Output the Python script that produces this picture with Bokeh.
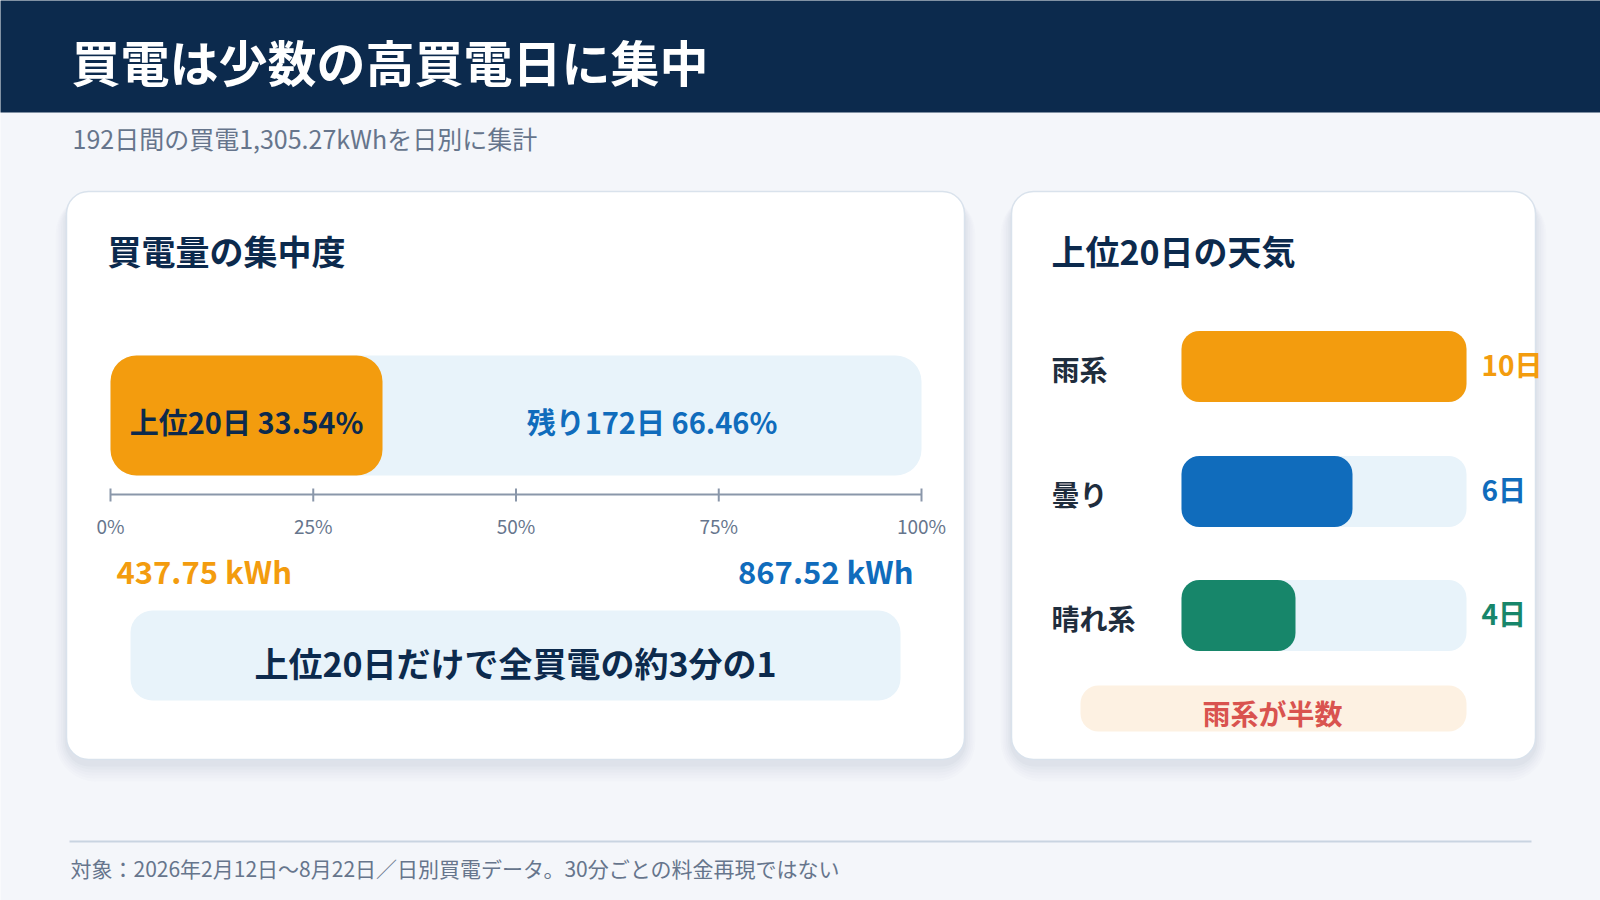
from bokeh.plotting import figure
from bokeh.models import Range1d
from bokeh.core.properties import value
from bokeh.embed import file_html
from bokeh.resources import INLINE

# ---------------- data ----------------
title = "買電は少数の高買電日に集中"
subtitle = "192日間の買電1,305.27kWhを日別に集計"
footer = "対象：2026年2月12日〜8月22日／日別買電データ。30分ごとの料金再現ではない"

share_labels = ["上位20日 33.54%", "残り172日 66.46%"]
share_values = [33.54, 66.46]
share_kwh = ["437.75 kWh", "867.52 kWh"]
share_ticks = [0, 25, 50, 75, 100]
share_tick_labels = ["0%", "25%", "50%", "75%", "100%"]
share_note = "上位20日だけで全買電の約3分の1"

weather_cats = ["雨系", "曇り", "晴れ系"]
weather_days = [10, 6, 4]
weather_max = 10
weather_labels = ["10日", "6日", "4日"]
weather_note = "雨系が半数"

# ---------------- style ----------------
FONT = value("Noto Sans CJK JP")
NAVY = "#0c2a4d"
BG = "#f4f6fa"
ORANGE = "#f39c0e"
BLUE = "#106cbc"
GREEN = "#17866a"
TRACK = "#e8f3fa"
GRAY = "#66758c"
DARK = "#1f2d3d"
DY = -3  # text baseline nudge

W, H = 1600, 900
p = figure(width=W, height=H, output_backend="svg", toolbar_location=None,
           x_range=Range1d(0, W), y_range=Range1d(H, 0),
           min_border=0, background_fill_color=BG, border_fill_color=BG,
           outline_line_color=None)
p.axis.visible = False
p.grid.visible = False

# header
p.quad(left=[-2], right=[W + 2], top=[-2], bottom=[112], fill_color=NAVY, line_color=None)
p.text(x=[71], y=[63 + DY], text=[title], text_font=FONT, text_font_size="49px",
       text_font_style="bold", text_color="white", text_baseline="middle")
p.text(x=[72], y=[140 + DY], text=[subtitle], text_font=FONT, text_font_size="25px",
       text_color=GRAY, text_baseline="middle")

# cards with soft shadow
cards = [(66, 964, 191, 759), (1011, 1535, 191, 759)]
for (l, r, t, b) in cards:
    for i, a in enumerate([0.018, 0.018, 0.02, 0.022, 0.025, 0.03]):
        g = 18 - i * 3
        p.quad(left=[l - g * 0.6], right=[r + g * 0.6], top=[t - g * 0.2 + 6],
               bottom=[b + g + 4], fill_color="#5a6f8c", fill_alpha=a,
               line_color=None, border_radius=22 + g)
    p.quad(left=[l], right=[r], top=[t], bottom=[b], fill_color="white",
           line_color="#d9e2ec", line_width=1.5, border_radius=22)

p.text(x=[107], y=[253 + DY], text=["買電量の集中度"], text_font=FONT, text_font_size="34px",
       text_font_style="bold", text_color=NAVY, text_baseline="middle")
p.text(x=[1051], y=[253 + DY], text=["上位20日の天気"], text_font=FONT, text_font_size="34px",
       text_font_style="bold", text_color=NAVY, text_baseline="middle")

# ---------- concentration bar (share scale 0..100 -> px 110..921) ----------
sx0, sx1 = 110, 921
k = (sx1 - sx0) / 100.0
p.extra_x_ranges = {"share": Range1d((0 - sx0) / k, (W - sx0) / k)}
wx0, wx1 = 1181, 1466
kw = (wx1 - wx0) / weather_max
p.extra_x_ranges["weather"] = Range1d((0 - wx0) / kw, (W - wx0) / kw)

total = sum(share_values)
p.quad(left=[0], right=[total], top=[355], bottom=[475], fill_color=TRACK,
       line_color=None, border_radius=26, x_range_name="share")
p.quad(left=[0], right=[share_values[0]], top=[355], bottom=[475], fill_color=ORANGE,
       line_color=None, border_radius=26, x_range_name="share")
mid0 = share_values[0] / 2
mid1 = share_values[0] + share_values[1] / 2
p.text(x=[mid0], y=[423 + DY], text=[share_labels[0]], text_font=FONT, text_font_size="29px",
       text_font_style="bold", text_color=NAVY, text_align="center",
       text_baseline="middle", x_range_name="share")
p.text(x=[mid1], y=[423 + DY], text=[share_labels[1]], text_font=FONT, text_font_size="29px",
       text_font_style="bold", text_color=BLUE, text_align="center",
       text_baseline="middle", x_range_name="share")

# axis
p.segment(x0=[share_ticks[0]], x1=[share_ticks[-1]], y0=[494], y1=[494],
          line_color="#8a97aa", line_width=2, x_range_name="share")
p.segment(x0=share_ticks, x1=share_ticks, y0=[488] * 5, y1=[501] * 5,
          line_color="#8a97aa", line_width=2, x_range_name="share")
p.text(x=share_ticks, y=[528 + DY] * 5, text=share_tick_labels, text_font=FONT,
       text_font_size="19px", text_color=GRAY, text_align="center",
       text_baseline="middle", x_range_name="share")

p.text(x=[116], y=[573 + DY], text=[share_kwh[0]], text_font=FONT, text_font_size="31px",
       text_font_style="bold", text_color=ORANGE, text_baseline="middle")
p.text(x=[913], y=[573 + DY], text=[share_kwh[1]], text_font=FONT, text_font_size="31px",
       text_font_style="bold", text_color=BLUE, text_align="right", text_baseline="middle")

p.quad(left=[130], right=[900], top=[610], bottom=[700], fill_color=TRACK,
       line_color=None, border_radius=22)
p.text(x=[515], y=[665 + DY], text=[share_note], text_font=FONT, text_font_size="34px",
       text_font_style="bold", text_color=NAVY, text_align="center", text_baseline="middle")

# ---------- weather bars ----------
ycent = [366, 491, 615]
bh = 71
colors = [ORANGE, BLUE, GREEN]
tops = [y - bh / 2 for y in ycent]
bots = [y + bh / 2 for y in ycent]
p.quad(left=[0] * 3, right=[weather_max] * 3, top=tops, bottom=bots, fill_color=TRACK,
       line_color=None, border_radius=18, x_range_name="weather")
p.quad(left=[0] * 3, right=weather_days, top=tops, bottom=bots, fill_color=colors,
       line_color=None, border_radius=18, x_range_name="weather")
p.text(x=[1051] * 3, y=[y + 5 + DY for y in ycent], text=weather_cats, text_font=FONT,
       text_font_size="28px", text_font_style="bold", text_color=DARK,
       text_baseline="middle")
p.text(x=[1481] * 3, y=[y + DY for y in ycent], text=weather_labels, text_font=FONT,
       text_font_size="28px", text_font_style="bold", text_color=colors,
       text_baseline="middle")

p.quad(left=[1080], right=[1466], top=[685], bottom=[731], fill_color="#fdf1e2",
       line_color=None, border_radius=18)
p.text(x=[1272], y=[715 + DY], text=[weather_note], text_font=FONT, text_font_size="28px",
       text_font_style="bold", text_color="#d9534f", text_align="center",
       text_baseline="middle")

# footer
p.segment(x0=[69], x1=[1531], y0=[841], y1=[841], line_color="#c9d4e1", line_width=2)
p.text(x=[70], y=[870 + DY], text=[footer], text_font=FONT, text_font_size="21px",
       text_color=GRAY, text_baseline="middle")

open("out.html", "w").write(file_html(p, INLINE))
